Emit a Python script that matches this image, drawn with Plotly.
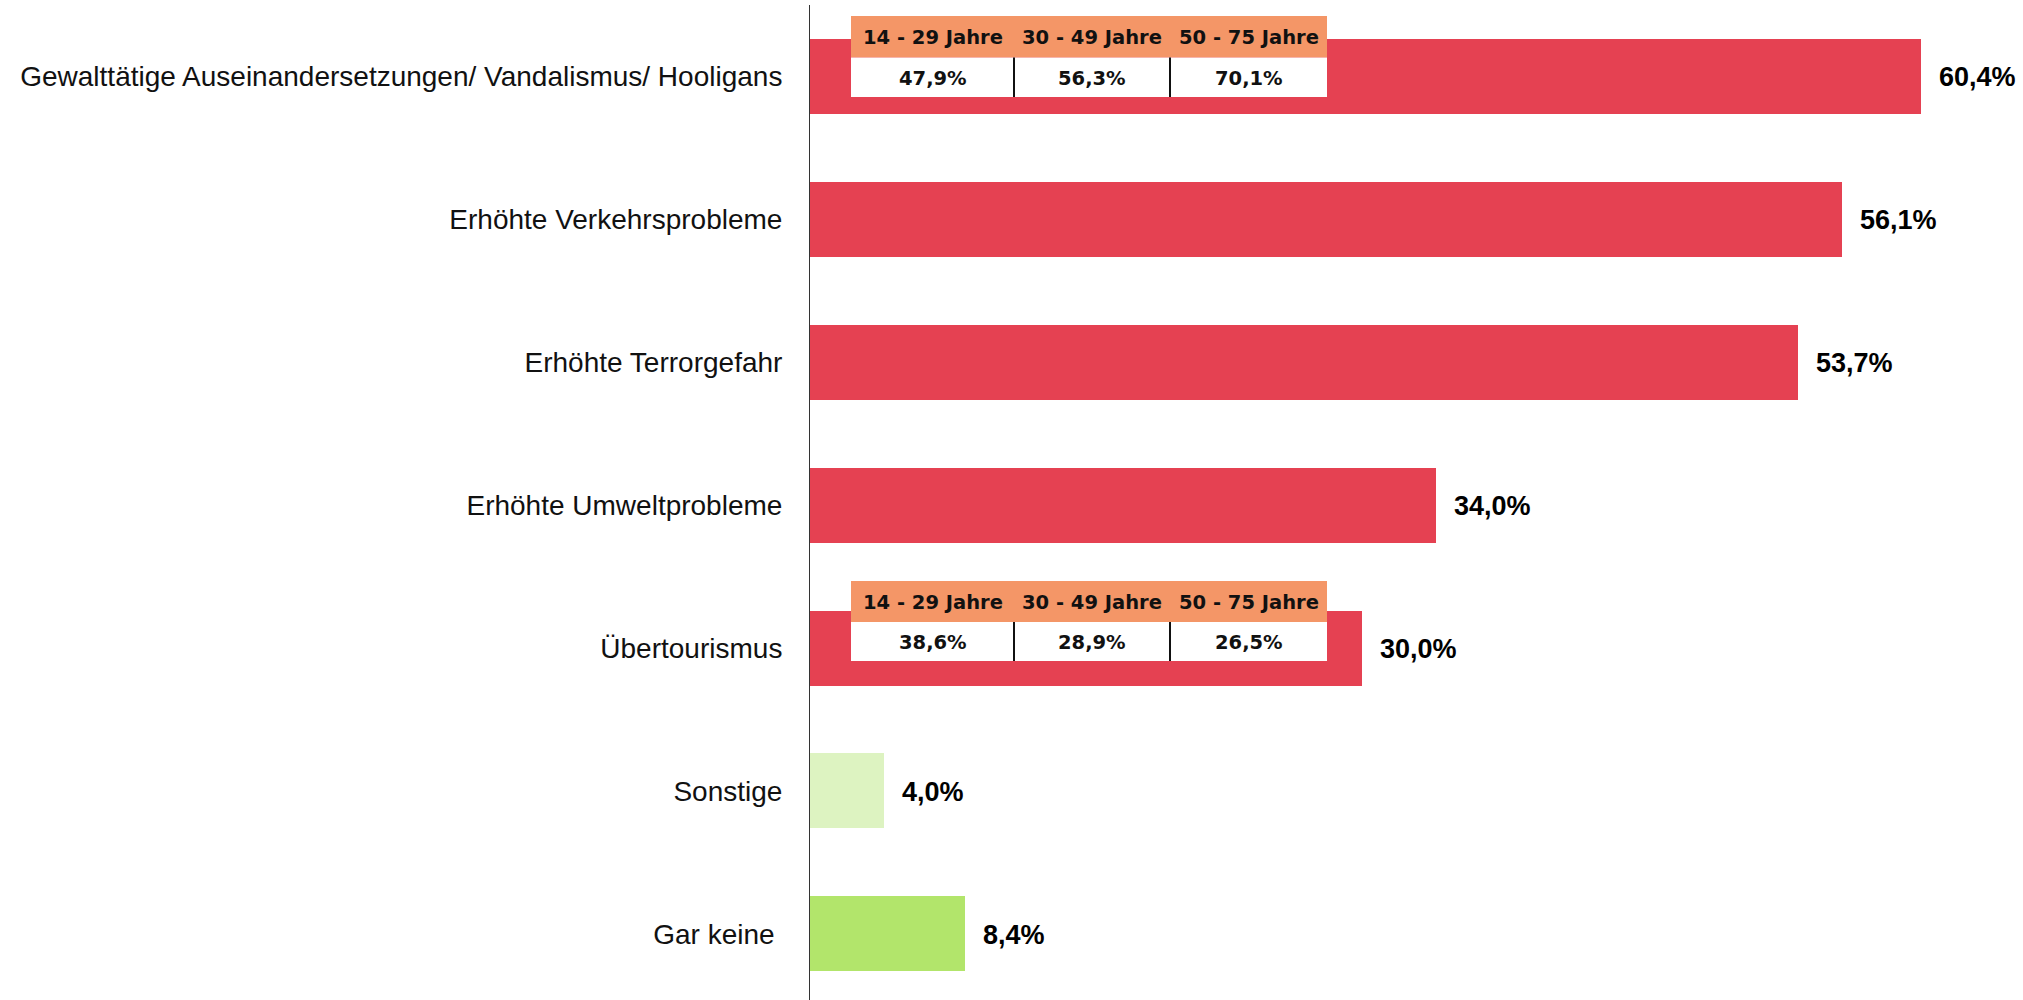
import plotly.graph_objects as go

# ---------------- data ----------------
categories = [
    "Gewalttätige Auseinandersetzungen/ Vandalismus/ Hooligans",
    "Erhöhte Verkehrsprobleme",
    "Erhöhte Terrorgefahr",
    "Erhöhte Umweltprobleme",
    "Übertourismus",
    "Sonstige",
    "Gar keine ",
]
values = [60.4, 56.1, 53.7, 34.0, 30.0, 4.0, 8.4]
bar_colors = ["#E54152", "#E54152", "#E54152", "#E54152", "#E54152", "#DDF3C1", "#B2E56B"]

age_groups = ["14 - 29 Jahre", "30 - 49 Jahre", "50 - 75 Jahre"]
age_gewalt = ["47,9%", "56,3%", "70,1%"]
age_uebertourismus = ["38,6%", "28,9%", "26,5%"]

# ---------------- layout geometry (pixels) ----------------
W, H = 2023, 1000
PL, PT, PR, PB = 810, 5, 0, 0
PW, PH = W - PL - PR, H - PT - PB
PX_PER_PCT = 18.4
CAT_PX = 142.9


def fx(x):
    return (x - PL) / PW


def fy(y):
    return 1 - (y - PT) / PH


def fmt(v):
    return f"{v:.1f}%".replace(".", ",")


fig = go.Figure()
fig.add_trace(go.Bar(
    x=values,
    y=categories,
    orientation="h",
    marker=dict(color=bar_colors, line=dict(width=0)),
    width=0.525,
    hoverinfo="skip",
))

annotations = []
for c, v in zip(categories, values):
    annotations.append(dict(
        x=v, y=c, xref="x", yref="y", text=fmt(v), showarrow=False,
        xanchor="left", yanchor="middle", xshift=16, yshift=-1,
        font=dict(family="Liberation Sans, Arial", size=27, color="#000000", weight="bold"),
    ))

shapes = []
col_edges = [851, 1014, 1170, 1327]
tables = [
    (age_gewalt, 16, 57.5, 97),
    (age_uebertourismus, 581, 622, 661),
]
TFONT = dict(family="DejaVu Sans", size=19.5, color="#111111", weight="bold")
for vals, y0, y1, y2 in tables:
    shapes.append(dict(type="rect", xref="paper", yref="paper",
                       x0=fx(col_edges[0]), x1=fx(col_edges[-1]), y0=fy(y1), y1=fy(y0),
                       fillcolor="#F49667", line=dict(width=0)))
    shapes.append(dict(type="rect", xref="paper", yref="paper",
                       x0=fx(col_edges[0]), x1=fx(col_edges[-1]), y0=fy(y2), y1=fy(y1),
                       fillcolor="#FFFFFF", line=dict(width=0)))
    for xe in col_edges[1:-1]:
        shapes.append(dict(type="line", xref="paper", yref="paper",
                           x0=fx(xe), x1=fx(xe), y0=fy(y2), y1=fy(y1),
                           line=dict(color="#111111", width=2)))
    for i in range(3):
        cx = (col_edges[i] + col_edges[i + 1]) / 2
        annotations.append(dict(
            x=fx(cx), y=fy((y0 + y1) / 2 + 1), xref="paper", yref="paper",
            text=age_groups[i], showarrow=False, xanchor="center", yanchor="middle",
            font=TFONT,
        ))
        annotations.append(dict(
            x=fx(cx), y=fy((y1 + y2) / 2 + 1), xref="paper", yref="paper",
            text=vals[i], showarrow=False, xanchor="center", yanchor="middle",
            font=TFONT,
        ))

fig.update_layout(
    width=W, height=H,
    margin=dict(l=PL, r=PR, t=PT, b=PB, pad=0),
    paper_bgcolor="#FFFFFF", plot_bgcolor="#FFFFFF",
    showlegend=False,
    bargap=0,
    xaxis=dict(range=[0, PW / PX_PER_PCT], visible=False, showgrid=False, zeroline=False),
    yaxis=dict(
        type="category",
        range=[PH / CAT_PX - 0.5, -0.5],
        showgrid=False, zeroline=False,
        showline=True, linecolor="#333333", linewidth=1,
        ticks="", ticklabelstandoff=21,
        tickfont=dict(family="Liberation Sans, Arial", size=28, color="#111111"),
    ),
    shapes=shapes,
    annotations=annotations,
)

fig.write_html(
    "out.html",
    config={"displayModeBar": False},
    post_script="document.body.style.margin='0px';document.body.style.overflow='hidden';",
)
